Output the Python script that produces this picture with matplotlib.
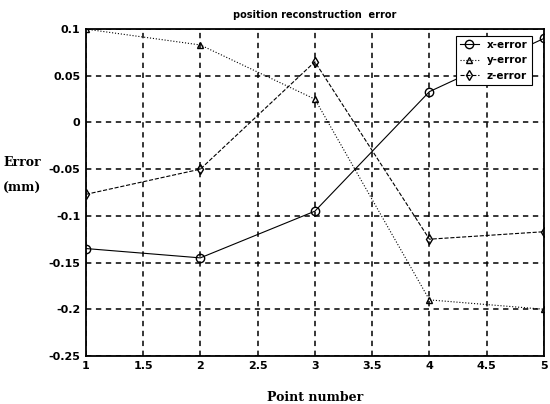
import numpy as np
import matplotlib.pyplot as plt

# data
points = [1, 2, 3, 4, 5]
x_err = [-0.135, -0.145, -0.095, 0.033, 0.09]
y_err = [0.1, 0.083, 0.025, -0.19, -0.2]
z_err = [-0.077, -0.05, 0.065, -0.125, -0.117]

x_ticks = [1, 1.5, 2, 2.5, 3, 3.5, 4, 4.5, 5]
x_tick_labels = ["1", "1.5", "2", "2.5", "3", "3.5", "4", "4.5", "5"]
y_ticks = [0.1, 0.05, 0, -0.05, -0.1, -0.15, -0.2, -0.25]
y_tick_labels = ["0.1", "0.05", "0", "-0.05", "-0.1", "-0.15", "-0.2", "-0.25"]

fig = plt.figure(figsize=(5.5, 4.04), dpi=100)
ax = fig.add_axes([0.156, 0.119, 0.833, 0.809])

ax.plot(points, x_err, color="black", linestyle="-", linewidth=0.8,
        marker="o", markersize=6, markerfacecolor="none", label="x-error")
ax.plot(points, y_err, color="black", linestyle=":", linewidth=0.8,
        marker="^", markersize=5, markerfacecolor="none", label="y-error")
ax.plot(points, z_err, color="black", linestyle="--", linewidth=0.8,
        marker="d", markersize=5, markerfacecolor="none", label="z-error")

ax.set_xlim(1, 5)
ax.set_ylim(-0.25, 0.1)
ax.set_xticks(x_ticks)
ax.set_xticklabels(x_tick_labels, fontweight="bold", fontsize=8)
ax.set_yticks(y_ticks)
ax.set_yticklabels(y_tick_labels, fontweight="bold", fontsize=8)
ax.tick_params(length=0, pad=4)
ax.grid(True, color="black", linestyle=(0, (3.5, 3)), linewidth=1.1)
for s in ax.spines.values():
    s.set_linewidth(1.3)

ax.set_title("position reconstruction  error", fontsize=7, fontweight="bold", pad=8)
ax.set_xlabel("Point number", family="DejaVu Serif", fontweight="bold", fontsize=9, labelpad=14)
fig.text(0.04, 0.59, "Error", family="DejaVu Serif", fontweight="bold", fontsize=9, ha="center")
fig.text(0.04, 0.525, "(mm)", family="DejaVu Serif", fontweight="bold", fontsize=9, ha="center")

leg = ax.legend(loc="upper right", bbox_to_anchor=(0.985, 0.995),
                prop={"weight": "bold", "size": 7.5}, fancybox=False,
                edgecolor="black", framealpha=1, handlelength=1.8, borderpad=0.4)
leg.get_frame().set_linewidth(0.8)

fig.savefig("out.png", dpi=100)
